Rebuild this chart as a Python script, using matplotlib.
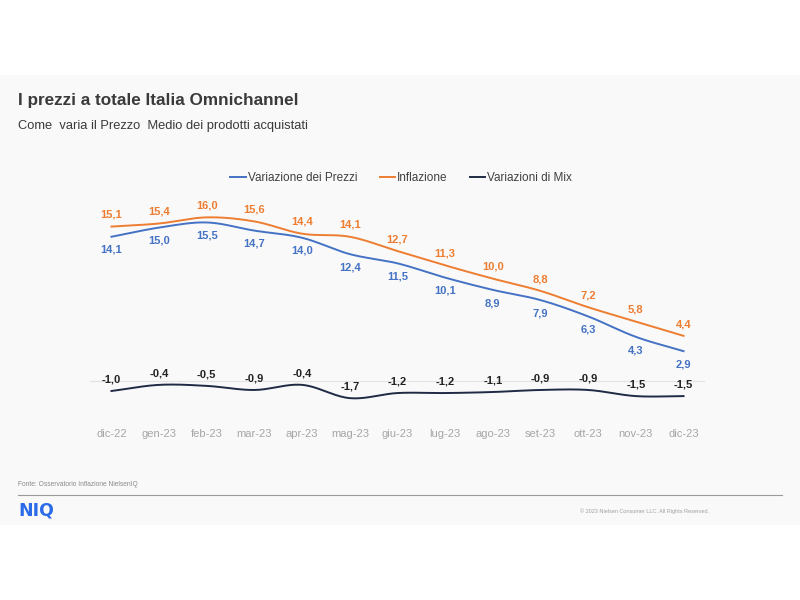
import matplotlib.pyplot as plt
import numpy as np
from matplotlib.patches import Rectangle

plt.rcParams["font.family"] = ["Liberation Sans", "DejaVu Sans"]

months = ["dic-22", "gen-23", "feb-23", "mar-23", "apr-23", "mag-23", "giu-23",
          "lug-23", "ago-23", "set-23", "ott-23", "nov-23", "dic-23"]
prezzi = [14.1, 15.0, 15.5, 14.7, 14.0, 12.4, 11.5, 10.1, 8.9, 7.9, 6.3, 4.3, 2.9]
inflazione = [15.1, 15.4, 16.0, 15.6, 14.4, 14.1, 12.7, 11.3, 10.0, 8.8, 7.2, 5.8, 4.4]
mix = [-1.0, -0.4, -0.5, -0.9, -0.4, -1.7, -1.2, -1.2, -1.1, -0.9, -0.9, -1.5, -1.5]

BLUE = "#4472C4"
ORANGE = "#ED7D31"
NAVY = "#1F2A44"


def smooth(x, y, n=20):
    # Catmull-Rom curve through the data points (Excel-like smoothed line)
    x = np.asarray(x, float)
    y = np.asarray(y, float)
    px = np.concatenate([[2 * x[0] - x[1]], x, [2 * x[-1] - x[-2]]])
    py = np.concatenate([[2 * y[0] - y[1]], y, [2 * y[-1] - y[-2]]])
    xs, ys = [], []
    t = np.linspace(0, 1, n, endpoint=False)
    for i in range(1, len(px) - 2):
        for p, out in ((px, xs), (py, ys)):
            p0, p1, p2, p3 = p[i - 1], p[i], p[i + 1], p[i + 2]
            out.extend(0.5 * (2 * p1 + (-p0 + p2) * t
                              + (2 * p0 - 5 * p1 + 4 * p2 - p3) * t ** 2
                              + (-p0 + 3 * p1 - 3 * p2 + p3) * t ** 3))
    xs.append(x[-1])
    ys.append(y[-1])
    return np.array(xs), np.array(ys)


fig = plt.figure(figsize=(8, 6), dpi=100)
fig.patch.set_facecolor("white")
fig.add_artist(Rectangle((0, 75 / 600), 1, 450 / 600, transform=fig.transFigure,
                         facecolor="#f9f9f9", edgecolor="none", zorder=0))

# axes: left 90px, right 705px, top 200px, bottom 415px
ax = fig.add_axes([90 / 800, 185 / 600, 615 / 800, 215 / 600])
ax.set_facecolor("none")
x = np.arange(len(months))
ax.set_xlim(-0.45, len(months) - 1 + 0.45)
ax.set_ylim(-3.35, 17.7)

ax.axhline(0, color="#e3e3e3", lw=0.8, zorder=1)

for vals, color, lab, offset, tcol in [
    (prezzi, BLUE, "Variazione dei Prezzi", -9.5, BLUE),
    (inflazione, ORANGE, "Inflazione", 8.5, ORANGE),
    (mix, NAVY, "Variazioni di Mix", 8.5, "#222222"),
]:
    sx, sy = smooth(x, vals)
    ax.plot(sx, sy, color=color, lw=1.4, label=lab, zorder=3)
    for xi, v in zip(x, vals):
        ax.annotate(f"{v:.1f}".replace(".", ","), (xi, v), xytext=(0, offset),
                    textcoords="offset points", ha="center", va="center",
                    fontsize=8, fontweight="bold", color=tcol)

ax.set_xticks(x)
ax.set_xticklabels(months, fontsize=8, color="#a6a6a6")
ax.tick_params(axis="x", length=0, pad=10)
ax.set_yticks([])
for s in ax.spines.values():
    s.set_visible(False)

leg = fig.legend(*ax.get_legend_handles_labels(), loc="center",
                 bbox_to_anchor=(401 / 800, 1 - 178 / 600), ncol=3,
                 frameon=False, fontsize=8.5, handlelength=1.3, handletextpad=0.15,
                 columnspacing=1.9)
for t in leg.get_texts():
    t.set_color("#404040")

fig.text(18 / 800, 1 - 101 / 600, "I prezzi a totale Italia Omnichannel",
         fontsize=12.3, fontweight="bold", color="#3a3a3a", va="center")
fig.text(18 / 800, 1 - 126 / 600, "Come  varia il Prezzo  Medio dei prodotti acquistati",
         fontsize=9.3, color="#3a3a3a", va="center")

fig.text(18 / 800, 1 - 485 / 600, "Fonte: Osservatorio Inflazione NielsenIQ",
         fontsize=4.8, color="#8a8a8a", va="center")
fig.add_artist(plt.Line2D([18 / 800, 782 / 800], [1 - 495 / 600, 1 - 495 / 600],
                          transform=fig.transFigure, color="#9a9a9a", lw=0.8))
fig.text(18 / 800, 1 - 511 / 600, "NIQ", fontsize=12.5, fontweight="bold",
         color="#2B6BE8", va="center", family="DejaVu Sans")
fig.text(580 / 800, 1 - 511 / 600, "© 2023 Nielsen Consumer LLC. All Rights Reserved.",
         fontsize=4, color="#a0a0a0", va="center")

fig.savefig("out.png", dpi=100)
